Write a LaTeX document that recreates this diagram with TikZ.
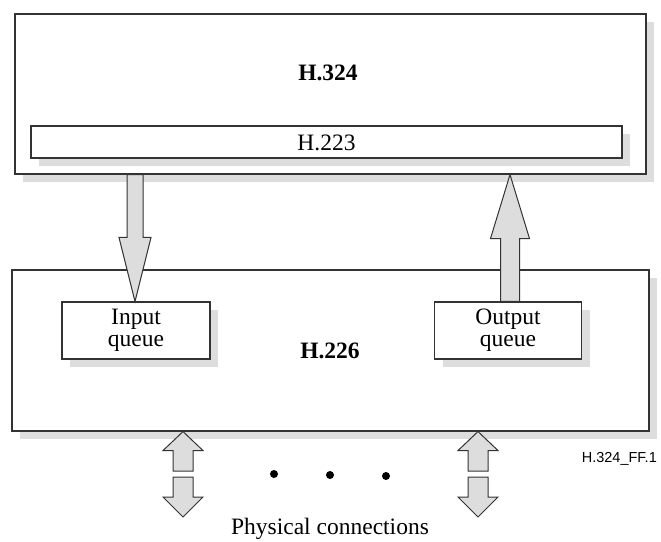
\documentclass[tikz,border=0pt]{standalone}
\usepackage{fontspec}
\setmainfont{Liberation Serif}
\newfontfamily\labelsans{Liberation Sans}
\usetikzlibrary{calc,shadows}
\definecolor{shadowgray}{HTML}{DDDDDD}
\definecolor{linegray}{HTML}{333333}
\tikzset{
  box/.style={draw=linegray, line width=1.1pt, fill=white, inner sep=0pt,
    drop shadow={shadow xshift=8pt, shadow yshift=-8pt, fill=shadowgray, opacity=1}},
  lbl/.style={inner sep=0pt, font=\fontsize{23.5}{21.7}\selectfont},
  blbl/.style={lbl, font=\fontsize{23.5}{21.7}\selectfont\bfseries},
  qtext/.style={lbl, align=center},
  blockarrow/.style={draw=linegray, line width=1pt, fill=shadowgray, line join=miter},
  dotmark/.style={circle, fill=black, inner sep=0pt, minimum size=8pt}
}
\newcommand\vblock[5]{%
  \path ($(#2)!#5!(#1)$) coordinate (hb);
  \draw[blockarrow] ($(#1)+(-#3,0)$) -- ($(hb)+(-#3,0)$) -- ($(hb)+(-#4,0)$) -- (#2)
    -- ($(hb)+(#4,0)$) -- ($(hb)+(#3,0)$) -- ($(#1)+(#3,0)$) -- cycle;
}
\begin{document}
\begin{tikzpicture}[x=1pt, y=-1pt]
\useasboundingbox (0,0) rectangle (661,541);
% upper block
\node[box, minimum width=631pt, minimum height=160pt] (h324) at (330.5,94) {};
\node[blbl] (l324) at (328,73) {H.324};
\node[box, minimum width=591pt, minimum height=32pt] (h223) at (326.5,142) {};
\node[lbl] (l223) at (326.5,142.5) {H.223};
% lower block
\node[box, minimum width=637pt, minimum height=161pt] (h226) at (330.5,350.5) {};
\node[blbl] (l226) at (330,350.5) {H.226};
\node[box, minimum width=148pt, minimum height=57pt] (inq) at (136,330.5) {};
\node[qtext] (linq) at (inq.center) {Input\\queue};
\node[box, minimum width=147pt, minimum height=57pt] (outq) at (508,330.5) {};
\node[qtext] (loutq) at (outq.center) {Output\\queue};
% arrows between H.324 and H.226
\coordinate (la0) at (h324.south -| 135,0);
\coordinate (la1) at (inq.north -| 135,0);
\vblock{la0}{la1}{8}{16}{64pt}
\coordinate (ra0) at (outq.north -| 510,0);
\coordinate (ra1) at (h324.south -| 510,0);
\vblock{ra0}{ra1}{9.5}{19.5}{64pt}
% physical connections
\coordinate (pa0) at (183,471);
\coordinate (pa1) at (h226.south -| 183,0);
\vblock{pa0}{pa1}{10}{20}{19pt}
\coordinate (pb0) at (183,477);
\coordinate (pb1) at (183,517);
\vblock{pb0}{pb1}{10}{20}{20pt}
\coordinate (qa0) at (478,471);
\coordinate (qa1) at (h226.south -| 478,0);
\vblock{qa0}{qa1}{10}{20}{19pt}
\coordinate (qb0) at (478,477);
\coordinate (qb1) at (478,517);
\vblock{qb0}{qb1}{10}{20}{20pt}
\node[dotmark] (d1) at (274,474) {};
\node[dotmark] (d2) at (330,475) {};
\node[dotmark] (d3) at (386,476) {};
\node[lbl, anchor=base] (phys) at (330,534) {Physical connections};
\node[inner sep=0pt, anchor=base east, font=\labelsans\fontsize{14.5}{16}\selectfont] (fig) at (657,462) {H.324\_FF.1};
\end{tikzpicture}
\end{document}
